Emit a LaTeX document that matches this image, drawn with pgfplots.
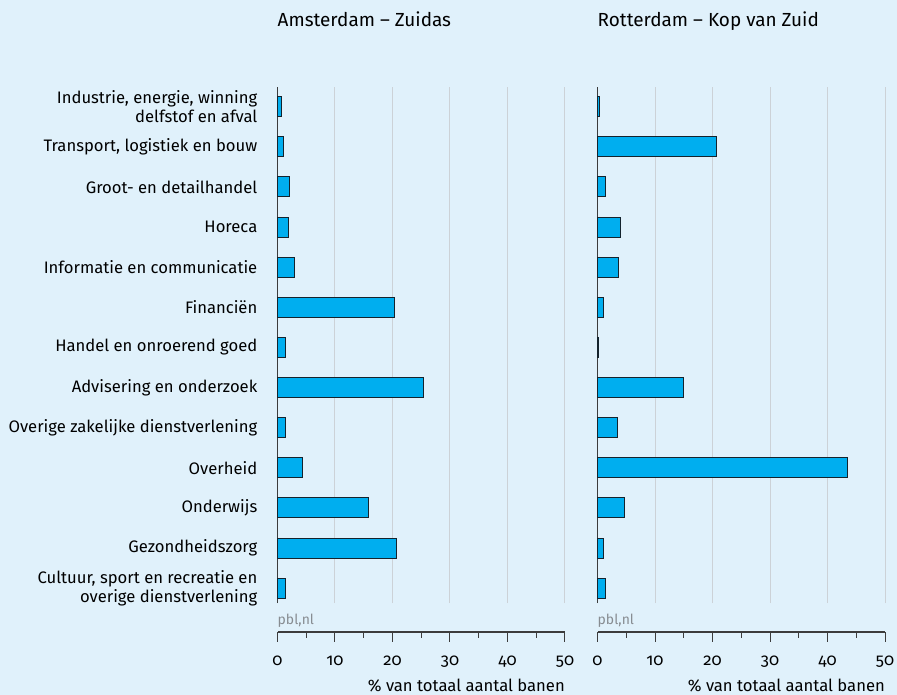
\documentclass[border=0pt]{standalone}
\usepackage{fontspec}
\IfFontExistsTF{Fira Sans Book}
  {\setmainfont{Fira Sans Book}[Numbers=OldStyle]}
  {\setmainfont{Fira Sans}[Numbers=OldStyle]}
\usepackage{pgfplots}
\usepackage{pgfplotstable}
\pgfplotsset{compat=1.18}

\definecolor{bg}{RGB}{224,241,251}
\definecolor{barblue}{RGB}{0,174,239}
\definecolor{bardark}{RGB}{20,35,45}
\definecolor{gridgray}{RGB}{204,210,215}
\definecolor{axisgray}{RGB}{60,60,60}
\definecolor{srcgray}{RGB}{135,140,145}

% rows listed bottom (0) to top (12)
\pgfplotstableread{
idx ams rot
12 0.7 0.4
11 1.0 20.6
10 2.0 1.3
9 1.9 4.0
8 3.0 3.6
7 20.4 1.0
6 1.45 0.1
5 25.4 15.0
4 1.45 3.4
3 4.3 43.5
2 15.8 4.7
1 20.75 1.1
0 1.45 1.3
}\jobs

\newcommand\lblfont{\fontsize{16.7}{19}\selectfont}

\pgfplotsset{
  panel/.style={
    scale only axis, width=287.5bp, height=516bp,
    xbar, bar width=20bp,
    xmin=0, xmax=50, ymin=-0.37, ymax=12.49,
    axis y line*=left, axis x line*=bottom,
    axis x line shift=29bp,
    axis line style={axisgray, line width=1.1bp},
    xtick={0,10,...,50}, minor xtick={5,15,...,45},
    tick align=outside, major tick length=10bp, minor tick length=6bp,
    x tick style={axisgray, line width=1bp},
    y tick style={draw=none},
    xmajorgrids, grid style={gridgray, line width=1bp},
    ytick={0,...,12},
    /pgf/number format/assume math mode=true,
    tick label style={font=\lblfont},
    xticklabel style={anchor=base, yshift=-24bp},
    clip=false,
  },
  bars/.style={draw=bardark, fill=barblue, line width=0.9bp},
}

\begin{document}
\begin{tikzpicture}
\fill[bg] (0,0) rectangle (897bp,695bp);
\useasboundingbox (0,0) rectangle (897bp,695bp);

\begin{axis}[panel, at={(277.5bp,92bp)}, anchor=south west,
  yticklabels={
    {Cultuur, sport en recreatie en\\overige dienstverlening},
    Gezondheidszorg, Onderwijs, Overheid,
    Overige zakelijke dienstverlening,
    Advisering en onderzoek, Handel en onroerend goed,
    Financiën, Informatie en communicatie, Horeca,
    Groot- en detailhandel, {Transport, logistiek en bouw},
    {Industrie, energie, winning\\delfstof en afval}},
  yticklabel style={align=right, anchor=east, inner sep=0pt, xshift=-10bp},
]
\addplot[bars] table[x=ams, y=idx] {\jobs};
\node[anchor=base west, inner sep=0pt, font=\fontsize{19}{22}\selectfont] at (rel axis cs:0,1) [yshift=60bp] {Amsterdam – Zuidas};
\node[anchor=base west, inner sep=0pt, text=srcgray, font=\fontsize{14}{16}\selectfont] at (rel axis cs:0,0) [yshift=-21bp] {pbl,nl};
\node[anchor=base east, inner sep=0pt, font=\lblfont] at (rel axis cs:1,0) [yshift=-88bp] {\% van totaal aantal banen};
\end{axis}

\begin{axis}[panel, at={(597.5bp,92bp)}, anchor=south west, yticklabels={}]
\addplot[bars] table[x=rot, y=idx] {\jobs};
\node[anchor=base west, inner sep=0pt, font=\fontsize{19}{22}\selectfont] at (rel axis cs:0,1) [yshift=60bp] {Rotterdam – Kop van Zuid};
\node[anchor=base west, inner sep=0pt, text=srcgray, font=\fontsize{14}{16}\selectfont] at (rel axis cs:0,0) [yshift=-21bp] {pbl,nl};
\node[anchor=base east, inner sep=0pt, font=\lblfont] at (rel axis cs:1,0) [yshift=-88bp] {\% van totaal aantal banen};
\end{axis}
\end{tikzpicture}
\end{document}
